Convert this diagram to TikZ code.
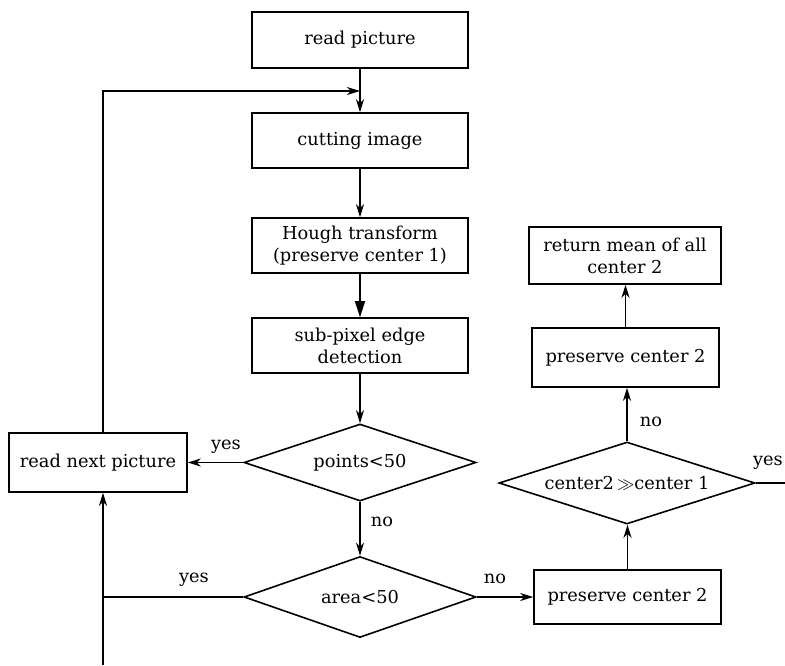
\documentclass[tikz,border=0pt]{standalone}
\usepackage{fontspec}
\setmainfont{DejaVu Serif}
\usetikzlibrary{shapes.geometric,arrows.meta}
\tikzset{
  box/.style={draw, line width=1.6pt, inner sep=0pt, align=center, font=\fontsize{17.8}{22}\selectfont},
  dia/.style={draw, diamond, line width=1.6pt, inner sep=0pt, aspect=3, font=\fontsize{17.8}{22}\selectfont},
  lbl/.style={font=\fontsize{17.8}{22}\selectfont, inner sep=0pt},
  conn/.style={line width=1.7pt, -{Stealth[length=13pt,width=8pt,inset=4pt]}},
  bigconn/.style={line width=1.7pt, -{Triangle[length=16pt,width=10pt]}},
  plain/.style={line width=1.7pt}
}
\begin{document}
\begin{tikzpicture}[x=1pt,y=-1pt]
\useasboundingbox (0,0) rectangle (785,665);
\node[box, minimum width=216pt, minimum height=56pt] (read) at (360,40) {read picture};
\node[box, minimum width=216pt, minimum height=55pt] (cut) at (360,140.5) {cutting image};
\node[box, minimum width=216pt, minimum height=55pt] (hough) at (360,245.5) {Hough transform\\(preserve center 1)};
\node[box, minimum width=216pt, minimum height=55pt] (sub) at (360,345.5) {sub-pixel edge\\detection};
\node[dia, minimum width=232pt, minimum height=77pt] (pts) at (360,462.5) {points<50};
\node[box, minimum width=178pt, minimum height=59pt] (next) at (98,462.5) {read next picture};
\node[dia, minimum width=232pt, minimum height=81pt] (area) at (360,597) {area<50};
\node[box, minimum width=187pt, minimum height=54pt] (pc2a) at (627.5,597) {preserve center 2};
\node[dia, minimum width=256pt, minimum height=82pt] (cmp) at (627,483) {center2\,$\gg$center 1};
\node[box, minimum width=187pt, minimum height=59pt] (pc2b) at (625.5,357.5) {preserve center 2};
\node[box, minimum width=192pt, minimum height=57pt] (ret) at (625,255.5) {return mean of all\\center 2};

\coordinate (j1) at (103,91);
\coordinate (j2) at (360,91);
\coordinate (j3) at (103,597);
\coordinate (bot) at (103,665);
\coordinate (rend) at (785,483);

\draw[conn] (read.south) -- (cut.north);
\draw[conn] (next.north -| j1) -- (j1) -- (j2);
\draw[conn] (cut.south) -- (hough.north);
\draw[bigconn] (hough.south) -- (sub.north);
\draw[conn] (sub.south) -- (pts.north);
\draw[conn] (pts.west) -- (next.east);
\draw[conn] (pts.south) -- (area.north);
\draw[plain] (area.west) -- (j3);
\draw[conn] (bot) -- (next.south -| bot);
\draw[conn] (area.east) -- (pc2a.west);
\draw[conn] (pc2a.north) -- (cmp.south -| pc2a.north);
\draw[conn] (cmp.north) -- (pc2b.south -| cmp.north);
\draw[conn] (pc2b.north) -- (ret.south -| pc2b.north);
\draw[plain] (cmp.east) -- (rend);

\node[lbl] (l1) at (226,447) {yes};
\node[lbl] (l2) at (382,522) {no};
\node[lbl] (l3) at (194,580) {yes};
\node[lbl] (l4) at (495,579) {no};
\node[lbl] (l5) at (651,422) {no};
\node[lbl] (l6) at (768,463) {yes};
\end{tikzpicture}
\end{document}
